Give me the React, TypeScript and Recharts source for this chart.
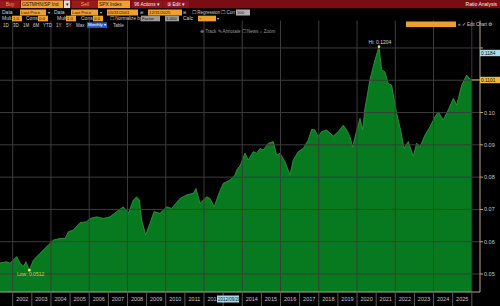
import React from 'react';
import { AreaChart, Area, XAxis, YAxis, ReferenceLine, ReferenceDot } from 'recharts';

// decimal-year dates of the read points
const dates = [
  2001.336, 2001.685, 2001.859, 2002.207, 2002.382, 2002.556, 2002.695, 2002.869, 2003.078, 2003.427,
  2003.862, 2004.124, 2004.473, 2004.734, 2004.908, 2005.169, 2005.518, 2005.867, 2006.041, 2006.389,
  2006.738, 2007.086, 2007.435, 2007.783, 2008.044, 2008.306, 2008.48, 2008.62, 2008.742, 2008.951,
  2009.177, 2009.386, 2009.7, 2010.049, 2010.31, 2010.746, 2011.094, 2011.442, 2011.582, 2011.791,
  2011.965, 2012.139, 2012.314, 2012.54, 2012.749, 2013.011, 2013.359, 2013.621, 2013.709, 2013.882,
  2014.143, 2014.317, 2014.578, 2014.752, 2014.927, 2015.1, 2015.362, 2015.623, 2015.797, 2015.971,
  2016.233, 2016.494, 2016.668, 2016.93, 2017.191, 2017.452, 2017.627, 2017.801, 2017.975, 2018.149,
  2018.411, 2018.759, 2019.02, 2019.282, 2019.456, 2019.632, 2019.771, 2019.944, 2020.153, 2020.294,
  2020.414, 2020.675, 2020.937, 2021.146, 2021.287, 2021.459, 2021.633, 2021.808, 2022.069, 2022.278,
  2022.455, 2022.679, 2022.941, 2023.118, 2023.291, 2023.552, 2023.813, 2024.075, 2024.249, 2024.51,
  2024.771, 2025.033, 2025.211, 2025.472, 2025.733, 2025.853, 2025.994,
];

// ratio values
const ratio = [
  0.0534, 0.0538, 0.0533, 0.0554, 0.0534, 0.0523, 0.0538, 0.0512, 0.0543, 0.0564,
  0.059, 0.0605, 0.061, 0.061, 0.0631, 0.0636, 0.0659, 0.0662, 0.0672, 0.0677,
  0.0672, 0.0677, 0.0693, 0.0708, 0.0688, 0.0729, 0.0739, 0.0729, 0.0667, 0.0621,
  0.0657, 0.0693, 0.0688, 0.0708, 0.0703, 0.0734, 0.0745, 0.075, 0.0765, 0.0719,
  0.0729, 0.0739, 0.0734, 0.0708, 0.0745, 0.0781, 0.0791, 0.0807, 0.0822, 0.0835,
  0.0874, 0.0853, 0.0879, 0.0874, 0.0889, 0.0884, 0.0905, 0.091, 0.0868, 0.0874,
  0.0848, 0.0807, 0.0853, 0.0879, 0.0889, 0.0915, 0.0948, 0.0946, 0.0925, 0.0941,
  0.0946, 0.0927, 0.0941, 0.0961, 0.0946, 0.0925, 0.0894, 0.0936, 0.0982, 0.0946,
  0.1013, 0.1101, 0.1163, 0.1204, 0.1132, 0.1126, 0.109, 0.1085, 0.0998, 0.0946,
  0.0889, 0.091, 0.0865, 0.0905, 0.0894, 0.093, 0.0956, 0.0987, 0.1002, 0.0977,
  0.1008, 0.1044, 0.1023, 0.1085, 0.1116, 0.1106, 0.1101,
];

const yearTicks = [2002, 2003, 2004, 2005, 2006, 2007, 2008, 2009, 2010, 2011, 2012, 2013, 2014, 2015, 2016, 2017, 2018, 2019, 2020, 2021, 2022, 2023, 2024, 2025, 2026];
// year labels (2013 sits under the cursor date box, 2026 is past the data)
const yearLabels = ['2002', '2003', '2004', '2005', '2006', '2007', '2008', '2009', '2010', '2011', '2012', '', '2014', '2015', '2016', '2017', '2018', '2019', '2020', '2021', '2022', '2023', '2024', '2025', ''];
const gridYears = [2002, 2004, 2006, 2008, 2010, 2012, 2014, 2016, 2018, 2020, 2022, 2024, 2026];
const valueTicks = [0.05, 0.06, 0.07, 0.08, 0.09, 0.1, 0.11, 0.12];
const valueLabels = ['0.05', '0.06', '0.07', '0.08', '0.09', '0.10', '', ''];
const xDomain = [2001.336, 2026.428];
const yDomain = [0.04443, 0.12866];

const hiPoint = { t: 2021.146, v: 0.1204, label: 'Hi: 0.1204' };
const lowPoint = { t: 2002.869, v: 0.0512, label: 'Low: 0.0512' };
const lastValue = 0.1101;
const lastDate = 2025.994;
const cursorValue = 0.1184;
const cursorDateLabel = '2012/09/28';

const data = dates.map((t, i) => ({ t, v: ratio[i] }));

const FONT = '"Liberation Sans", Arial, sans-serif';

const YearTick = (props: any) => {
  const { x, y, index } = props;
  const half = (480 / (xDomain[1] - xDomain[0])) / 2;
  const label = yearLabels[index] ?? '';
  return (
    <g>
      <line x1={x} y1={y} x2={x} y2={y + 14} stroke="#5a5a5a" strokeWidth={1} />
      {label && (
        <text x={x + half} y={y + 9} fill="#c8c8c8" fontSize={5.5} textAnchor="middle" fontFamily={FONT}>{label}</text>
      )}
    </g>
  );
};

const ValueTick = (props: any) => {
  const { x, y, index } = props;
  const label = valueLabels[index] ?? '';
  return (
    <g>
      <line x1={x} y1={y} x2={x + 3} y2={y} stroke="#c8a850" strokeWidth={1} />
      {label && (
        <text x={x + 4} y={y + 2} fill="#c8c8c8" fontSize={5.5} fontFamily={FONT}>{label}</text>
      )}
    </g>
  );
};

const Box = ({ x, y, w, h, fill, text, color = '#111', size = 5, anchor = 'start' }: any) => (
  <g>
    <rect x={x} y={y} width={w} height={h} fill={fill} />
    {text && (
      <text x={anchor === 'middle' ? x + w / 2 : x + 1} y={y + h - 1.6} fontSize={size} fill={color} fontFamily={FONT} textAnchor={anchor}>{text}</text>
    )}
  </g>
);

const T = ({ x, y, text, color = '#d0d0d0', size = 5, anchor = 'start' }: any) => (
  <text x={x} y={y} fontSize={size} fill={color} fontFamily={FONT} textAnchor={anchor}>{text}</text>
);

const ORANGE = '#f0a030';

const Header = () => (
  <svg width={500} height={306} style={{ position: 'absolute', left: 0, top: 0, pointerEvents: 'none' }}>
    {/* top red bar */}
    <rect x={0} y={0} width={500} height={8.5} fill="#7a0c14" />
    <Box x={0} y={0.5} w={20} h={7.5} fill="#9a1a1a" text="Buy" color="#ff9a50" size={5} anchor="middle" />
    <Box x={21} y={0.5} w={42} h={7.5} fill={ORANGE} text="GSTMHN/SP Ind" size={4.8} />
    <Box x={64} y={0.5} w={6} h={7.5} fill="#dddddd" text="▾" size={4.5} anchor="middle" />
    <Box x={72} y={0.5} w={26} h={7.5} fill="#9a1a1a" text="Sell" color="#ff9a50" size={5} anchor="middle" />
    <Box x={98} y={0.5} w={32} h={7.5} fill={ORANGE} text="SPX Index" size={4.8} />
    <Box x={132} y={0.5} w={30} h={7.5} fill="#8e1420" text="96 Actions ▾" color="#f0f0f0" size={4.6} anchor="middle" />
    <Box x={163} y={0.5} w={26} h={7.5} fill="#8e1420" text="⑨ Edit ▾" color="#f0f0f0" size={4.6} anchor="middle" />
    <T x={497} y={6.3} text="Ratio Analysis" color="#f0f0f0" size={5} anchor="end" />

    {/* row 2 */}
    <rect x={0} y={8.5} width={500} height={12} fill="#000" />
    <T x={2} y={14} text="Data" />
    <Box x={20} y={9.5} w={26} h={6} fill={ORANGE} text="Last Price" size={4.3} />
    <T x={47.5} y={14} text="▾" size={4} />
    <T x={54} y={14} text="Data" />
    <Box x={71} y={9.5} w={27} h={6} fill={ORANGE} text="Last Price" size={4.3} />
    <T x={99.5} y={14} text="▾" size={4} />
    <Box x={107} y={9.5} w={31} h={6} fill={ORANGE} text="05/31/2001" size={4.3} />
    <T x={140} y={14} text="⊞" size={4} />
    <Box x={148} y={9.5} w={34} h={6} fill={ORANGE} text="12/31/2025" size={4.3} />
    <T x={183} y={14} text="⊞" size={4} />
    <T x={192} y={14} text="☐ Regression ☐ Corr" size={4.5} />
    <Box x={236} y={9.5} w={14} h={6} fill="#b0b0b0" text="100" size={4.2} />

    {/* row 3 */}
    <T x={2} y={20} text="Mult" />
    <Box x={12} y={15.7} w={10} h={5.6} fill={ORANGE} text="1.0" size={4.3} />
    <T x={26} y={20} text="Const" />
    <Box x={38} y={15.7} w={10} h={5.6} fill={ORANGE} text="0.0" size={4.3} />
    <T x={57} y={20} text="Mult" />
    <Box x={66} y={15.7} w={10} h={5.6} fill={ORANGE} text="1.0" size={4.3} />
    <T x={81} y={20} text="Const" />
    <Box x={93} y={15.7} w={10} h={5.6} fill={ORANGE} text="0.0" size={4.3} />
    <T x={110} y={20} text="☐ Normalize by" size={4.6} />
    <Box x={141} y={15.7} w={19} h={5.6} fill="#9a9a9a" text="Factor" size={4.2} />
    <Box x={165} y={15.7} w={14} h={5.6} fill="#9a9a9a" text="1.000" size={4.2} />
    <T x={183} y={20} text="Calc" />
    <Box x={198} y={15.7} w={18} h={5.6} fill={ORANGE} text="÷" size={4.3} />
    <T x={217} y={20} text="▾" size={4} />

    {/* row 4 */}
    <T x={3} y={26.5} text="1D" size={4.5} />
    <T x={13} y={26.5} text="3D" size={4.5} />
    <T x={23} y={26.5} text="1M" size={4.5} />
    <T x={33} y={26.5} text="6M" size={4.5} />
    <T x={43} y={26.5} text="YTD" size={4.5} />
    <T x={56} y={26.5} text="1Y" size={4.5} />
    <T x={66} y={26.5} text="5Y" size={4.5} />
    <T x={76} y={26.5} text="Max" size={4.5} />
    <Box x={87} y={22.3} w={20} h={5.6} fill="#2a5cc8" text="Monthly ▾" color="#ffffff" size={4.2} />
    <T x={113} y={26.5} text="Table" size={4.5} />
    <Box x={406} y={21.5} w={50} h={5.6} fill="#e8a030" text="" />
    <T x={458} y={26} text="« ✓ Edit Chart ⚙" size={4.5} />

    {/* row 5 */}
    <T x={200} y={33} text="⊕ Track  ✎ Annotate  ☐ News  ⌕ Zoom" color="#9a9a9a" size={4.5} />

    {/* annotations */}
    <T x={380} y={43.5} text={hiPoint.label} color="#d8d8d8" size={5} anchor="middle" />
    <T x={17} y={276} text={lowPoint.label} color="#c8d84a" size={5} />
    <Box x={480} y={49.8} w={20} h={6.4} fill="#a8dcec" text={String(cursorValue)} size={4.8} />
    <Box x={480} y={76.8} w={20} h={6.4} fill="#f0b840" text={String(lastValue)} size={4.8} />
    <Box x={217} y={295.5} w={22} h={7} fill="#a8dcec" text={cursorDateLabel} size={4.5} />
  </svg>
);

export default function App() {
  return (
    <div style={{ position: 'absolute', left: 0, top: 0, width: 500, height: 306, background: '#000', overflow: 'hidden' }}>
      <AreaChart width={500} height={306} data={data} margin={{ top: 20, right: 0, bottom: 0, left: 0 }}>
        <XAxis
          dataKey="t"
          type="number"
          domain={xDomain}
          allowDataOverflow
          ticks={yearTicks}
          tick={<YearTick />}
          tickLine={false}
          tickSize={0}
          tickMargin={0}
          axisLine={{ stroke: '#b0a890', strokeWidth: 1 }}
          height={14}
          interval={0}
        />
        <YAxis
          orientation="right"
          type="number"
          domain={yDomain}
          allowDataOverflow
          ticks={valueTicks}
          tick={<ValueTick />}
          tickLine={false}
          tickSize={0}
          tickMargin={0}
          axisLine={{ stroke: '#b0a890', strokeWidth: 1 }}
          width={20}
          interval={0}
        />
        {gridYears.map((g) => (
          <ReferenceLine key={'gx' + g} x={g} stroke="#3c3c3c" strokeWidth={1} ifOverflow="hidden" />
        ))}
        {valueTicks.map((v) => (
          <ReferenceLine key={'gy' + v} y={v} stroke="#3c3c3c" strokeWidth={1} />
        ))}
        <Area
          type="linear"
          dataKey="v"
          stroke="#3a9a48"
          strokeWidth={0.8}
          fill="#077a1f"
          fillOpacity={1}
          isAnimationActive={false}
          baseValue={yDomain[0]}
        />
        <ReferenceLine
          segment={[{ x: lastDate, y: lastValue }, { x: xDomain[1], y: lastValue }]}
          stroke="#e0b040"
          strokeWidth={1}
        />
        <ReferenceDot x={hiPoint.t} y={hiPoint.v} r={1.3} fill="#f0e060" stroke="none" />
        <ReferenceDot x={lowPoint.t} y={lowPoint.v} r={1.3} fill="#f0f060" stroke="none" />
      </AreaChart>
      <Header />
    </div>
  );
}
